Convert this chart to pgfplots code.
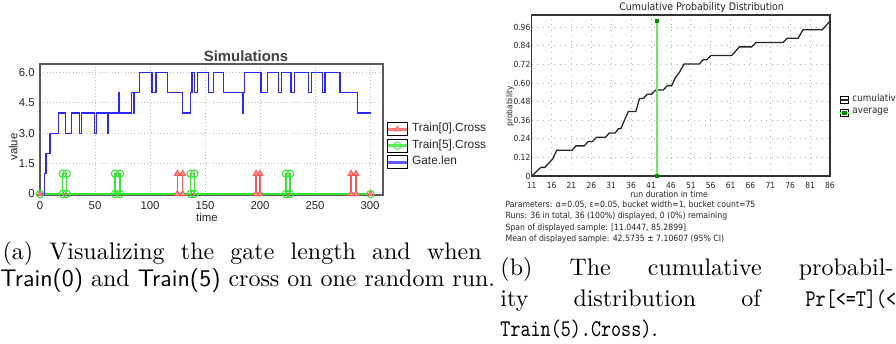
\documentclass[border=0pt]{standalone}
\usepackage{fontspec}
\usepackage{pgfplots}
\pgfplotsset{compat=1.18}
\newfontfamily\arialf{Liberation Sans}
\newfontfamily\tahf[FakeStretch=0.9]{DejaVu Sans}
\newfontfamily\cttf[FakeStretch=0.8]{lmmono10-regular.otf}
\definecolor{redc}{RGB}{255,85,85}
\definecolor{greenc}{RGB}{50,230,50}
\definecolor{bluec}{RGB}{40,40,255}
\definecolor{avgc}{RGB}{110,230,110}
\begin{document}
\begin{tikzpicture}
% ---------------- (a) Simulations ----------------
\begin{axis}[
  at={(17.2pt,-83.85pt)}, anchor=south west,
  scale only axis, width=147.49pt, height=56.33pt,
  xmin=0, xmax=311.8, ymin=-0.05, ymax=6.41,
  xtick={0,50,100,150,200,250,300},
  xticklabels={0,50,100,150,200,250,300},
  ytick={0,1.5,3,4.5,6},
  yticklabels={0,1.5,3.0,4.5,6.0},
  major tick length=0pt,
  grid=major, grid style={densely dotted, black!25, line width=0.4pt},
  axis line style={draw=black!65, line width=0.9pt},
  tick label style={font=\arialf\fontsize{4.9}{5.5}\selectfont, text=black!85},
  xticklabel style={anchor=north, inner ysep=0pt, yshift=-2.6pt},
  yticklabel style={anchor=east, inner xsep=0pt, xshift=-2.1pt},
  legend style={at={(1.009,0.376)}, anchor=west, draw=none, fill=none,
    inner sep=0pt, row sep=0.9pt,
    font=\arialf\fontsize{5.1}{6}\selectfont,
    nodes={inner sep=0.4pt, text=black!85},
    /tikz/every odd column/.append style={column sep=1.2pt}},
  legend cell align=left,
  legend image code/.code={%
    \draw[black, line width=0.5pt, fill=white] (0pt,-2.85pt) rectangle (8.9pt,2.85pt);
    \draw[mark repeat=2, mark phase=2, #1, line width=1.1pt, opacity=0.75]
      plot coordinates {(0.4pt,0pt) (4.45pt,0pt) (8.5pt,0pt)};},
]
\addplot[redc, line width=0.5pt, mark=triangle*, mark size=1.4pt,
  mark options={solid, fill=redc!60, draw=redc, line width=0.4pt}]
  coordinates {(0,0) (124.8,0) (124.8,1) (129.7,1) (129.7,0)
               (196.4,0) (196.4,1) (200,1) (200,0)
               (282.7,0) (282.7,1) (287.3,1) (287.3,0) (300.5,0)};
\addlegendentry{Train[0].Cross}
\addplot[greenc, line width=0.6pt, mark=o, mark size=1.6pt,
  mark options={solid, draw=greenc, line width=0.45pt}]
  coordinates {(0,0) (20.6,0) (20.6,1) (24.3,1) (24.3,0)
               (68.2,0) (68.2,1) (72.7,1) (72.7,0)
               (137,0) (137,1) (140.3,1) (140.3,0)
               (223.6,0) (223.6,1) (227.3,1) (227.3,0) (300.5,0)};
\addlegendentry{Train[5].Cross}
\addplot[bluec, line width=0.55pt, const plot]
  coordinates {(0,0) (3.9,1) (5.5,2) (9.1,3) (17.0,4) (23.3,3) (28.8,4)
   (35.8,3) (37.6,4) (49.7,3) (51.5,4) (61.2,3) (61.7,4) (71.8,5) (72.3,4)
   (83.3,5) (84.8,4) (86.1,5) (90.3,6) (101.8,5) (105.5,6) (115.8,5)
   (129.4,4) (136.7,5) (138.2,6) (140.6,5) (143.0,6) (153.0,5) (157.9,6)
   (167.0,5) (183.9,4) (184.5,5) (186.1,6) (200.9,5) (206.7,6) (216.7,5)
   (219.7,6) (228.2,5) (231.2,6) (244,5) (247,6) (257,5) (259,6)
   (272.7,5) (288.5,4) (300.6,4)};
\addlegendentry{Gate.len}
\end{axis}
\node[font=\arialf\bfseries\fontsize{6.4}{7}\selectfont, text=black!75] at (105.8pt,-23.95pt) {Simulations};
\node[font=\arialf\fontsize{4.9}{5.5}\selectfont, text=black!85] at (89pt,-93.3pt) {time};
\node[font=\arialf\fontsize{4.9}{5.5}\selectfont, text=black!85, rotate=90] at (5.7pt,-63.2pt) {value};
% ---------------- (b) Cumulative probability ----------------
\begin{axis}[
  at={(228.63pt,-75.68pt)}, anchor=south west,
  scale only axis, width=128.27pt, height=69.23pt,
  xmin=11, xmax=86, ymin=0, ymax=1.039,
  xtick={11,16,21,26,31,36,41,46,51,56,61,66,71,76,81,86},
  ytick={0,0.12,0.24,0.36,0.48,0.6,0.72,0.84,0.96},
  yticklabels={0,0.12,0.24,0.36,0.48,0.60,0.72,0.84,0.96},
  /pgf/number format/assume math mode=true,
  major tick length=0pt,
  grid=major, grid style={dotted, black!30, line width=0.35pt},
  axis line style={draw=black!80, line width=0.5pt},
  tick label style={font=\tahf\fontsize{3.6}{4.2}\selectfont, text=black!85},
  xticklabel style={anchor=north, inner ysep=0pt, yshift=-2.4pt},
  yticklabel style={anchor=east, inner xsep=0pt, xshift=-0.4pt},
  legend style={at={(1.027,0.436)}, anchor=west, draw=none, fill=none,
    inner sep=0pt, row sep=0.6pt,
    font=\tahf\fontsize{4.2}{5}\selectfont,
    nodes={inner sep=0.3pt, text=black!85},
    /tikz/every odd column/.append style={column sep=0.6pt}},
  legend cell align=left,
  legend image code/.code={%
    \draw[black, line width=0.4pt, fill=white] (0pt,-1.55pt) rectangle (3.6pt,1.55pt);
    \draw[mark repeat=2, mark phase=2, #1]
      plot coordinates {(-0.3pt,0pt) (1.8pt,0pt) (3.9pt,0pt)};},
]
\addplot[black!85, line width=0.55pt]
  coordinates {(11,0) (13.3,0.0556) (14.3,0.0556) (16.3,0.111) (17.3,0.1667)
   (21.2,0.1667) (22.1,0.1944) (24.2,0.1944) (25.2,0.2222) (26.3,0.2222)
   (27.3,0.25) (29.6,0.25) (30.5,0.2778) (32,0.2778) (32.8,0.3056)
   (33.4,0.3056) (35.3,0.4167) (37.2,0.4167) (38.1,0.5) (39,0.5)
   (40.1,0.5278) (41.1,0.5278) (42.2,0.5556) (44.1,0.5556) (45.1,0.5833)
   (46.2,0.5833) (47.2,0.6389) (48.1,0.6667) (49.3,0.7222) (53.1,0.7222)
   (54.1,0.75) (55,0.75) (56.1,0.7778) (61.3,0.7778) (63.2,0.8333)
   (66.3,0.8333) (67.4,0.8611) (74.2,0.8611) (75.2,0.8889) (78,0.8889)
   (79.2,0.9444) (84.1,0.9444) (86,1.0)};
\addlegendentry{cumulative}
\addplot[avgc, line width=0.9pt, mark=square*, mark size=0.45pt,
  mark options={solid, fill=green!55!black, draw=green!55!black}]
  coordinates {(42.5735,0) (42.5735,1)};
\addlegendentry{average}
\end{axis}
\node[font=\tahf\fontsize{4.5}{5}\selectfont, text=black!85] at (301.7pt,-3.4pt) {Cumulative Probability Distribution};
\node[font=\tahf\fontsize{3.7}{4.4}\selectfont, text=black!85] at (287.7pt,-83.4pt) {run duration in time};
\node[font=\tahf\fontsize{3.6}{4.2}\selectfont, text=black!85, rotate=90] at (219.3pt,-45.8pt) {probability};
\begin{scope}[every node/.style={anchor=base west, inner sep=0pt, font=\tahf\fontsize{3.7}{4.4}\selectfont, text=black!85}]
\node at (217.2pt,-89.1pt) {Parameters: α=0.05, ε=0.05, bucket width=1, bucket count=75};
\node at (217.2pt,-94.0pt) {Runs: 36 in total, 36 (100\%) displayed, 0 (0\%) remaining};
\node at (217.2pt,-98.9pt) {Span of displayed sample: [11.0447, 85.2899]};
\node at (217.2pt,-103.8pt) {Mean of displayed sample: 42.5735 ± 7.10607 (95\% CI)};
\end{scope}
% ---------------- captions ----------------
\begin{scope}[every node/.style={anchor=base west, inner sep=0pt, font=\fontsize{10.3}{12}\selectfont}]
\node at (0.9pt,-111.4pt) {\makebox[206pt][s]{(a) Visualizing the gate length and when}};
\node at (0pt,-123.4pt) {\textsf{Train(0)} and \textsf{Train(5)} cross on one random run.};
\node at (215pt,-118.3pt) {\makebox[169pt][s]{(b) The cumulative probabil-}};
\node at (215pt,-131.6pt) {\makebox[174.5pt][s]{ity distribution of {\cttf\fontsize{10.3}{12}\selectfont Pr[<=T](<>}}};
\node at (215pt,-144.5pt) {{\cttf\fontsize{10.3}{12}\selectfont Train(5).Cross)}.};
\end{scope}
\pgfresetboundingbox
\path[use as bounding box] (0pt,0pt) rectangle (385.28pt,-147.49pt);
\end{tikzpicture}
\end{document}
